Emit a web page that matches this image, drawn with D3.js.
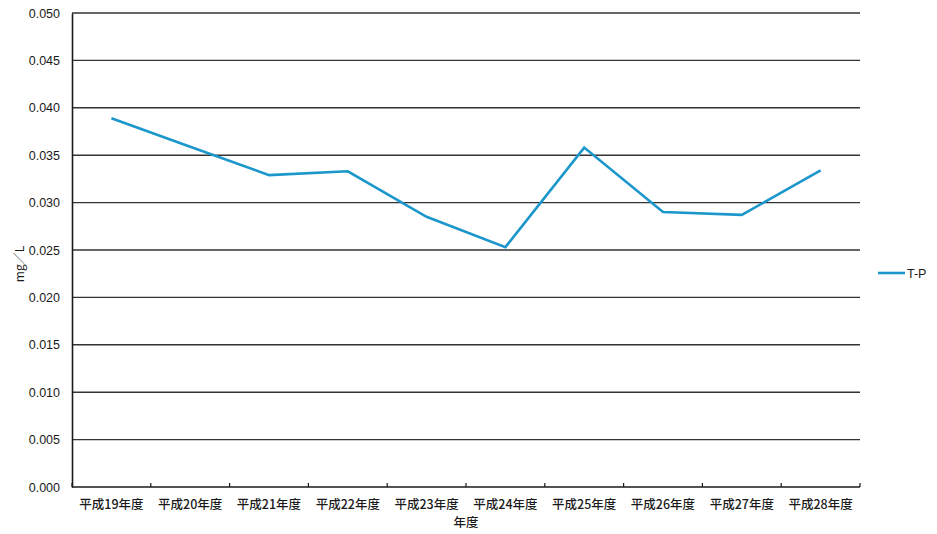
<!DOCTYPE html>
<html>
<head>
<meta charset="utf-8">
<script src="https://cdn.jsdelivr.net/npm/d3@7"></script>
<style>
  html, body { margin: 0; padding: 0; background: #fff; }
  svg { display: block; font-family: "Noto Sans CJK JP", "Noto Sans", sans-serif; }
</style>
</head>
<body>
<svg id="chart" width="937" height="534"></svg>
<script>
// Fiscal years (Heisei era)
const years = ["平成19年度", "平成20年度", "平成21年度", "平成22年度", "平成23年度",
               "平成24年度", "平成25年度", "平成26年度", "平成27年度", "平成28年度"];
// Total phosphorus (mg/L)
const tpValues = [0.0389, 0.0359, 0.0329, 0.0333, 0.0285, 0.0253, 0.0358, 0.0290, 0.0287, 0.0334];
const yTicks = [0, 0.005, 0.010, 0.015, 0.020, 0.025, 0.030, 0.035, 0.040, 0.045, 0.050];
const seriesName = "T-P";
const yTitle = "mg／L";
const xTitle = "年度";

const svg = d3.select("#chart");
const margin = { left: 72, right: 77, top: 13, bottom: 47 };
const W = 937, H = 534;
const x0 = margin.left, x1 = W - margin.right;
const y0 = H - margin.bottom, y1 = margin.top;

const x = d3.scaleBand().domain(years).range([x0, x1]);
const y = d3.scaleLinear().domain([0, 0.05]).range([y0, y1]);

// Horizontal gridlines
svg.append("g")
  .selectAll("line")
  .data(yTicks.filter(d => d > 0))
  .join("line")
  .attr("x1", x0).attr("x2", x1)
  .attr("y1", d => y(d)).attr("y2", d => y(d))
  .attr("stroke", "#333")
  .attr("stroke-width", 1.4);

// Y axis
const yAxis = svg.append("g")
  .attr("transform", `translate(${x0},0)`)
  .call(d3.axisLeft(y).tickValues(yTicks).tickFormat(d3.format(".3f")).tickSize(0).tickPadding(12));
yAxis.select(".domain").attr("stroke", "#1a1a1a").attr("stroke-width", 1.6);
yAxis.selectAll("text")
  .attr("font-size", 12.5)
  .attr("fill", "#1a1a1a")
  .attr("font-family", "Liberation Sans, Arial, sans-serif");

// X axis with inward ticks at category boundaries
const xAxisG = svg.append("g").attr("transform", `translate(0,${y0})`);
xAxisG.append("line")
  .attr("x1", x0).attr("x2", x1).attr("y1", 0).attr("y2", 0)
  .attr("stroke", "#1a1a1a").attr("stroke-width", 1.6);
const bounds = years.map(d => x(d)).concat([x1]);
xAxisG.selectAll("line.tick")
  .data(bounds)
  .join("line")
  .attr("class", "tick")
  .attr("x1", d => d).attr("x2", d => d)
  .attr("y1", 0).attr("y2", -4)
  .attr("stroke", "#1a1a1a").attr("stroke-width", 1.2);
xAxisG.selectAll("text")
  .data(years)
  .join("text")
  .attr("x", d => x(d) + x.bandwidth() / 2)
  .attr("y", 22)
  .attr("text-anchor", "middle")
  .attr("font-size", 12.5)
  .attr("font-weight", 500)
  .attr("fill", "#1a1a1a")
  .text(d => d);

// Axis titles
svg.append("text")
  .attr("x", (x0 + x1) / 2)
  .attr("y", 527)
  .attr("text-anchor", "middle")
  .attr("font-size", 12.5)
  .attr("font-weight", 500)
  .attr("fill", "#1a1a1a")
  .text(xTitle);

svg.append("text")
  .attr("transform", `translate(24,${(y0 + y1) / 2 + 14}) rotate(-90)`)
  .attr("text-anchor", "middle")
  .attr("font-size", 12)
  .attr("fill", "#1a1a1a")
  .text(yTitle);

// Data line
const lineColor = "#1b97cb";
const line = d3.line()
  .x((d, i) => x(years[i]) + x.bandwidth() / 2)
  .y(d => y(d));
svg.append("path")
  .datum(tpValues)
  .attr("d", line)
  .attr("fill", "none")
  .attr("stroke", lineColor)
  .attr("stroke-width", 2.6)
  .attr("stroke-linejoin", "miter");

// Legend
const lg = svg.append("g").attr("transform", "translate(878,273)");
lg.append("line")
  .attr("x1", 0).attr("x2", 27).attr("y1", 0).attr("y2", 0)
  .attr("stroke", lineColor).attr("stroke-width", 2.6);
lg.append("text")
  .attr("x", 29).attr("y", 4.5)
  .attr("font-size", 12.5)
  .attr("fill", "#1a1a1a")
  .attr("font-family", "Liberation Sans, Arial, sans-serif")
  .text(seriesName);
</script>
</body>
</html>
